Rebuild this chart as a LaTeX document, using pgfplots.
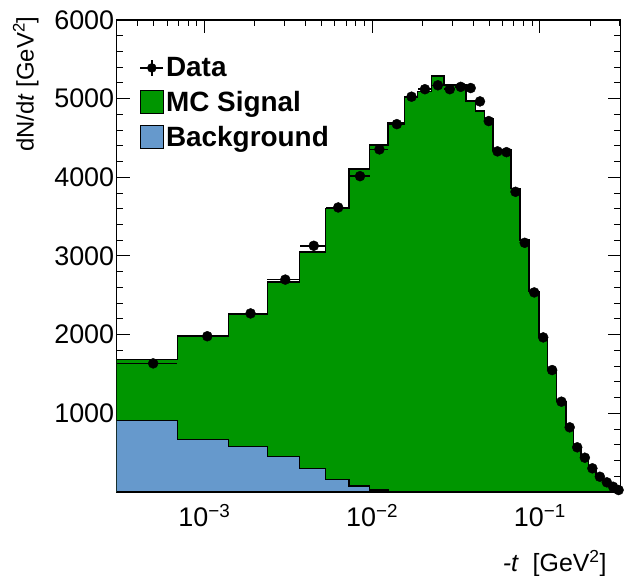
\documentclass[border=0pt]{standalone}
\usepackage{fontspec}
\setmainfont{Liberation Sans}
\usepackage{pgfplots}
\usepackage{pgfplotstable}
\pgfplotsset{compat=1.18}
\definecolor{mcgreen}{RGB}{0,150,0}
\definecolor{bkgblue}{RGB}{102,153,204}

% MC total (signal+background): left bin edge, height
\pgfplotstableread{
e h
0.0003 1686
0.00069 1974
0.001391 2262
0.002377 2668
0.003692 3053
0.005278 3605
0.00727 4104
0.00966 4409
0.01243 4698
0.01563 5023
0.01869 5090
0.02256 5286
0.02673 5175
0.03130 5175
0.03615 4970
0.04119 4845
0.04663 4748
0.05241 4345
0.05929 4345
0.06711 3860
0.07596 3202
0.08632 2550
0.09863 1965
0.1106 1550
0.1258 1148
0.1429 830
0.1580 576
0.1757 440
0.1949 305
0.2159 200
0.2394 125
0.2618 70
0.2842 28
0.3046 28
}\mctable

% Background: left bin edge, height
\pgfplotstableread{
e h
0.0003 906
0.00069 669
0.001391 576
0.002377 449
0.003692 301
0.005278 161
0.00727 75
0.00966 25
0.01243 8
0.01563 0
}\bkgtable

% Data: bin centre, half width, value, error
\pgfplotstableread{
x ex y ey
4.95e-4 1.95e-4 1635 40
1.0405e-3 3.505e-4 1980 40
1.884e-3 4.93e-4 2270 40
3.0345e-3 6.575e-4 2700 40
4.485e-3 7.93e-4 3130 40
6.274e-3 9.96e-4 3617 40
8.465e-3 1.195e-3 4015 40
11.045e-3 1.385e-3 4355 40
14.03e-3 1.6e-3 4676 40
17.16e-3 1.53e-3 5025 40
20.625e-3 1.935e-3 5120 40
24.645e-3 2.085e-3 5170 40
29.015e-3 2.285e-3 5120 40
33.725e-3 2.425e-3 5150 40
38.67e-3 2.52e-3 5135 40
43.91e-3 2.72e-3 4965 40
49.52e-3 2.89e-3 4715 40
55.85e-3 3.44e-3 4330 40
63.2e-3 3.91e-3 4320 40
71.535e-3 4.425e-3 3816 40
81.14e-3 5.18e-3 3168 40
92.475e-3 6.155e-3 2537 40
104.6e-3 5.985e-3 1965 40
118.2e-3 7.6e-3 1550 40
134.35e-3 8.55e-3 1148 40
150.45e-3 7.55e-3 822 30
166.85e-3 8.85e-3 568 30
185.3e-3 9.6e-3 436 30
205.4e-3 10.5e-3 301 20
227.65e-3 11.75e-3 194 20
250.6e-3 11.2e-3 123 15
273.0e-3 11.2e-3 67 10
294.4e-3 10.2e-3 25 8
}\datatable

\begin{document}
\begin{tikzpicture}
\begin{axis}[
  name=ax,
  scale only axis,
  width=504bp, height=472bp,
  xmode=log,
  xmin=3e-4, xmax=0.303,
  ymin=0, ymax=6000,
  xtick={1e-3,1e-2,1e-1},
  xticklabels={10\textsuperscript{−3},10\textsuperscript{−2},10\textsuperscript{−1}},
  minor xtick={4e-4,5e-4,6e-4,7e-4,8e-4,9e-4,2e-3,3e-3,4e-3,5e-3,6e-3,7e-3,8e-3,9e-3,2e-2,3e-2,4e-2,5e-2,6e-2,7e-2,8e-2,9e-2,2e-1,3e-1},
  ytick={0,1000,2000,3000,4000,5000,6000},
  yticklabels={{},1000,2000,3000,4000,5000,6000},
  minor y tick num=4,
  major tick length=13bp,
  minor tick length=6.5bp,
  tick style={black, line width=1bp},
  axis line style={line width=1.5bp},
  xticklabel style={font=\fontsize{27}{27}\selectfont, yshift=-9bp},
  yticklabel style={font=\fontsize{27}{27}\selectfont, xshift=1bp},
  xlabel={\textit{-t}\ \ [GeV\textsuperscript{2}]},
  xlabel style={at={(rel axis cs:0.979,-0.169)}, anchor=base east, font=\fontsize{25}{25}\selectfont},
  ylabel={dN/d\textit{t} [GeV\textsuperscript{2}]},
  ylabel style={at={(rel axis cs:-0.165,1.015)}, anchor=base east, font=\fontsize{24}{24}\selectfont},
  legend style={at={(rel axis cs:0.045,0.925)}, anchor=north west, draw=none, fill=none,
    font=\bfseries\fontsize{28}{30}\selectfont, row sep=9bp, inner sep=0pt,
    cells={anchor=west}},
]
\addlegendimage{legend image code/.code={%
  \draw[black, line width=1.5bp] (0bp,0bp)--(23bp,0bp) (11.5bp,-8bp)--(11.5bp,8bp);
  \fill[black] (11.5bp,0bp) circle (4.5bp);}}
\addlegendentry{Data}
\addlegendimage{legend image code/.code={%
  \draw[fill=mcgreen, draw=black, line width=1.5bp] (0bp,-11.5bp) rectangle (23bp,11.5bp);}}
\addlegendentry{MC Signal}
\addlegendimage{legend image code/.code={%
  \draw[fill=bkgblue, draw=black, line width=1.5bp] (0bp,-11.5bp) rectangle (23bp,11.5bp);}}
\addlegendentry{Background}

\addplot[forget plot, const plot mark left, fill=mcgreen, draw=black, line width=1.5bp]
  table[x=e, y=h] {\mctable} \closedcycle;
\addplot[forget plot, const plot mark left, fill=bkgblue, draw=black, line width=1.5bp]
  table[x=e, y=h] {\bkgtable} \closedcycle;
\addplot[forget plot, only marks, black, mark=*, mark size=5bp,
  error bars/.cd, x dir=both, x explicit, y dir=both, y explicit,
  error mark=none, error bar style={line width=1.5bp, black}]
  table[x=x, y=y, x error=ex, y error=ey] {\datatable};
\end{axis}
\pgfresetboundingbox
\path[use as bounding box] ([xshift=-116.7bp,yshift=-84bp]ax.south west) rectangle ([xshift=11.3bp,yshift=20bp]ax.north east);
\end{tikzpicture}
\end{document}
